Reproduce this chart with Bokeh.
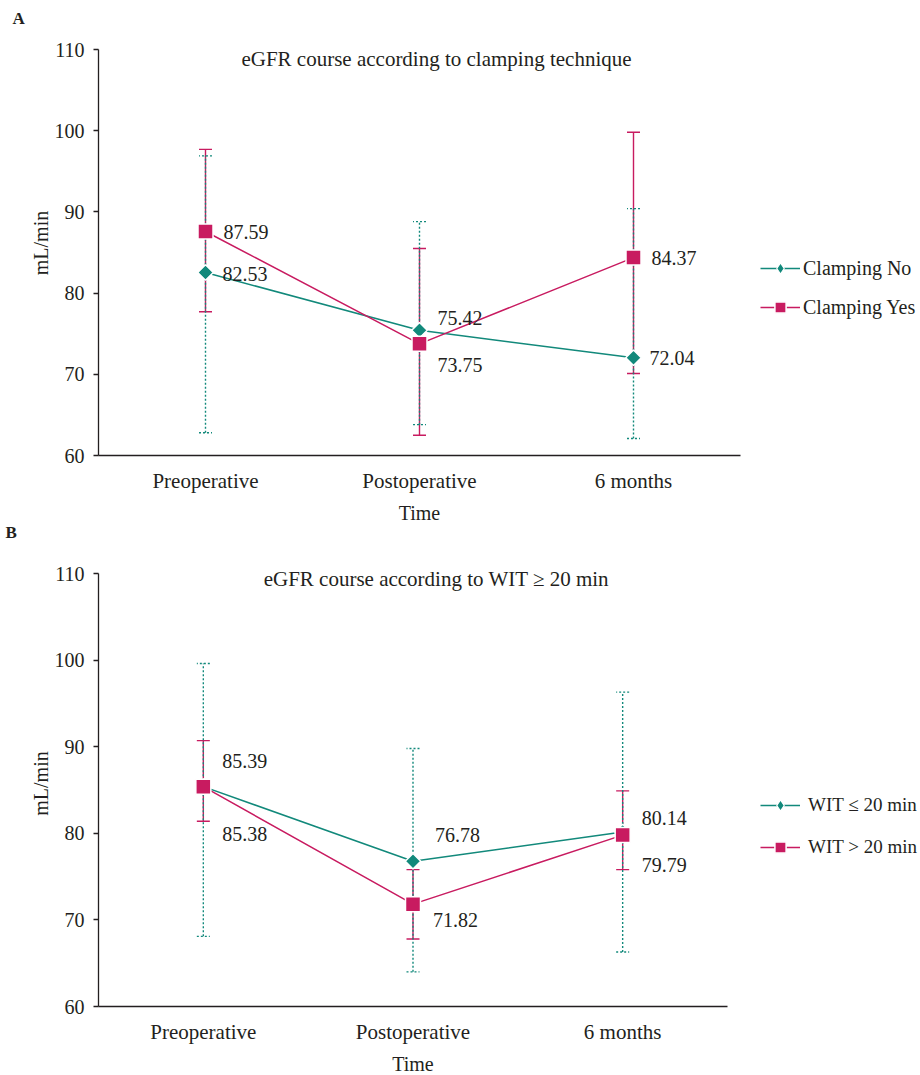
import math
from bokeh.plotting import figure
from bokeh.models import (Whisker, TeeHead, ColumnDataSource, Legend, LegendItem,
                          Label, FixedTicker, Range1d, FactorRange, Title)
from bokeh.layouts import column
from bokeh.embed import file_html
from bokeh.resources import INLINE
from bokeh.core.properties import value

# ---------------- data ----------------
times = ["Preoperative", "Postoperative", "6 months"]
y_ticks = [60, 70, 80, 90, 100, 110]
y_min, y_max = 60, 110

a_title = "eGFR course according to clamping technique"
a_names = ["Clamping No", "Clamping Yes"]
a_no_mean = [82.53, 75.42, 72.04]
a_no_low = [62.8, 63.8, 62.1]
a_no_high = [96.9, 88.8, 90.4]
a_yes_mean = [87.59, 73.75, 84.37]
a_yes_low = [77.7, 62.5, 70.1]
a_yes_high = [97.7, 85.5, 99.8]

b_title = "eGFR course according to WIT \u2265 20 min"
b_names = ["WIT \u2264 20 min", "WIT > 20 min"]
b_le_mean = [85.39, 76.78, 80.14]
b_le_low = [68.1, 64.0, 66.3]
b_le_high = [99.6, 89.8, 96.3]
b_gt_mean = [85.38, 71.82, 79.79]
b_gt_low = [81.4, 67.8, 75.8]
b_gt_high = [90.7, 75.8, 84.9]

# ---------------- style ----------------
FONT = "Liberation Serif"
TEXT = "#231f20"
TEAL = "#12897b"
MAG = "#c81b60"

# label offsets in screen pixels (style only)
a_no_dx, a_no_dy = [17, 18, 16], [1, -12, 0]
a_yes_dx, a_yes_dy = [18, 18, 18], [1, 21, 0]
b_le_dx, b_le_dy = [19, 22, 19], [-26, -26, -14]
b_gt_dx, b_gt_dy = [19, 20, 19], [47, 16, 30]


def letter_title(text, offset, standoff):
    return Title(text=text, align="left", offset=offset, standoff=standoff,
                 text_font=FONT, text_font_size="17px", text_font_style="bold",
                 text_color=TEXT)


def make_panel(title, names, teal, mag, g):
    axis_h = g["axis_bottom"] - g["axis_top"]          # pixel height of 60..110
    px_per_unit = axis_h / (y_max - y_min)
    frame_h = g["axis_bottom"] - g["frame_top"]
    y_end = y_max + (g["axis_top"] - g["frame_top"]) / px_per_unit
    p = figure(width=g["left"] + g["fw"] + g["right"], height=g["height"],
               frame_width=g["fw"], frame_height=frame_h,
               x_range=FactorRange(*times), y_range=Range1d(y_min, y_end),
               output_backend="svg", toolbar_location=None,
               min_border_left=g["left"], min_border_right=g["right"],
               min_border_top=g["frame_top"],
               min_border_bottom=g["height"] - g["axis_bottom"])
    p.title = None
    p.outline_line_color = None
    p.xgrid.visible = False
    p.ygrid.visible = False

    for ax in (p.xaxis[0], p.yaxis[0]):
        ax.axis_line_color = TEXT
        ax.axis_line_width = 1.3
        ax.major_label_text_font = FONT
        ax.major_label_text_color = TEXT
        ax.axis_label_text_font = FONT
        ax.axis_label_text_font_size = "20px"
        ax.axis_label_text_font_style = "normal"
        ax.axis_label_text_color = TEXT
        ax.minor_tick_line_color = None

    p.yaxis.bounds = (y_min, y_max)
    p.yaxis.ticker = FixedTicker(ticks=y_ticks)
    p.yaxis.major_label_text_font_size = "20px"
    p.yaxis.major_tick_out = 5
    p.yaxis.major_tick_in = 0
    p.yaxis.major_tick_line_color = TEXT
    p.yaxis.major_tick_line_width = 1.3
    p.yaxis.major_label_standoff = 9
    p.yaxis.axis_label = "mL/min"
    p.yaxis.axis_label_standoff = 0

    p.xaxis.major_label_text_font_size = "21px"
    p.xaxis.major_tick_line_color = None
    p.xaxis.major_tick_out = 0
    p.xaxis.major_label_standoff = 13
    p.xaxis.axis_label = "Time"
    p.xaxis.axis_label_standoff = 6

    srcs = []
    for (mean, low, high, dx, dy), color, dash in ((teal, TEAL, "2 2"), (mag, MAG, "solid")):
        src = ColumnDataSource(dict(x=times, m=mean, lo=low, hi=high,
                                    dx=dx, dy=dy,
                                    lab=[f"{v:.2f}" for v in mean]))
        srcs.append((src, color, dash))

    # error bars: magenta first, teal dotted over it
    for src, color, dash in (srcs[1], srcs[0]):
        w = Whisker(base="x", lower="lo", upper="hi", source=src, dimension="height",
                    line_color=color, line_width=1.4, line_dash=dash,
                    upper_head=TeeHead(size=13, line_color=color, line_width=1.4, line_dash=dash),
                    lower_head=TeeHead(size=13, line_color=color, line_width=1.4, line_dash=dash))
        p.add_layout(w)

    lines = []
    for src, color, dash in srcs:
        lines.append(p.line(x="x", y="m", source=src, line_color=color, line_width=1.5))

    # small diamond drawn under the plotted markers; serves as the legend swatch
    teal_key = p.scatter(x="x", y="m", source=srcs[0][0], marker="diamond", size=5,
                         fill_color=TEAL, line_color="white", line_width=1.2)
    teal_marks = p.scatter(x="x", y="m", source=srcs[0][0], marker="square", angle=math.pi / 4,
                           size=11, fill_color=TEAL, line_color="white", line_width=1.5)
    mag_marks = p.scatter(x="x", y="m", source=srcs[1][0], marker="square",
                          size=15, fill_color=MAG, line_color="white", line_width=1.5)

    for src, color, dash in srcs:
        p.text(x="x", y="m", text="lab", source=src, x_offset="dx", y_offset="dy",
               text_font=value(FONT), text_font_size="20px", text_color=TEXT,
               text_align="left", text_baseline="middle")

    p.add_layout(Label(x=g["title_x"] - g["left"], y=g["axis_bottom"] - g["title_y"],
                       x_units="screen", y_units="screen",
                       text=title, text_align="center", text_baseline="middle",
                       text_font=FONT, text_font_size="21px", text_color=TEXT))

    legend = Legend(items=[LegendItem(label=names[0], renderers=[lines[0], teal_key]),
                           LegendItem(label=names[1], renderers=[lines[1], mag_marks])],
                    location=(g["leg_x"] - g["left"] - g["fw"], g["axis_bottom"] - g["leg_bottom"]),
                    orientation="vertical",
                    glyph_width=40, glyph_height=28, label_height=20,
                    label_standoff=g["leg_standoff"], padding=0, margin=0,
                    spacing=g["leg_spacing"],
                    border_line_color=None, background_fill_alpha=0,
                    label_text_font=FONT, label_text_font_size=g["leg_font"],
                    label_text_color=TEXT)
    p.add_layout(legend, "right")
    return p


A_H = 545
geom_a = dict(height=A_H, left=98, right=180, fw=642, frame_top=30,
              axis_top=49, axis_bottom=455, title_x=436, title_y=58,
              leg_x=760, leg_bottom=321, leg_spacing=11, leg_standoff=3, leg_font="20px")
geom_b = dict(height=1075 - A_H, left=97, right=194, fw=629, frame_top=560 - A_H,
              axis_top=573 - A_H, axis_bottom=1006 - A_H, title_x=435, title_y=578 - A_H,
              leg_x=759, leg_bottom=861 - A_H, leg_spacing=14, leg_standoff=8, leg_font="19px")

pa = make_panel(a_title, a_names,
                (a_no_mean, a_no_low, a_no_high, a_no_dx, a_no_dy),
                (a_yes_mean, a_yes_low, a_yes_high, a_yes_dx, a_yes_dy), geom_a)
pa.add_layout(letter_title("A", -86, 6), "above")
pa.add_layout(letter_title("B", -93, -11), "below")

pb = make_panel(b_title, b_names,
                (b_le_mean, b_le_low, b_le_high, b_le_dx, b_le_dy),
                (b_gt_mean, b_gt_low, b_gt_high, b_gt_dx, b_gt_dy), geom_b)

layout = column(pa, pb, spacing=0)
open("out.html", "w").write(file_html(layout, INLINE))
